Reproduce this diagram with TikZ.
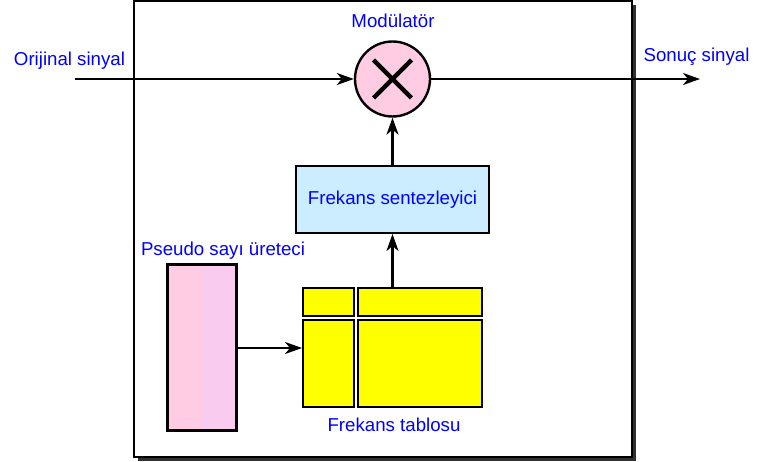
\documentclass[tikz,border=0pt]{standalone}
\usepackage{fontspec}
\setmainfont{Liberation Sans}
\usetikzlibrary{arrows.meta}

\definecolor{pembe}{HTML}{FFCCE3}
\definecolor{mor}{HTML}{F9CCEF}
\definecolor{acikmavi}{HTML}{CCECFF}
\definecolor{sari}{HTML}{FFFF00}
\definecolor{golge}{HTML}{303030}

\tikzset{
  etiket/.style={text=blue, font=\fontsize{18.67}{20}\selectfont, inner sep=0pt, anchor=base},
  kutu/.style={draw=black, line width=2pt, inner sep=0pt, rectangle},
  hucre/.style={draw=black, line width=2pt, fill=sari, inner sep=0pt, rectangle},
  ok/.style={line width=2.2pt, -{Stealth[length=17pt,width=12pt,inset=5pt]}}
}

\begin{document}
\begin{tikzpicture}[x=1pt, y=-1pt]
\useasboundingbox (0,0) rectangle (764,462);

% dis cerceve (golgeli)
\fill[golge] (138,5) rectangle (636,461);
\draw[fill=white, line width=2pt] (134,1) rectangle (632,457);

% modulator
\node[kutu, circle, fill=pembe, minimum size=75pt, line width=2.4pt] (mod) at (392.5,79) {};
\draw[line width=4.5pt] ([shift={(-19,-19)}]mod.center) -- ([shift={(19,19)}]mod.center);
\draw[line width=4.5pt] ([shift={(-19,19)}]mod.center) -- ([shift={(19,-19)}]mod.center);

% frekans sentezleyici
\node[kutu, fill=acikmavi, minimum width=193pt, minimum height=67pt,
      text=blue, font=\fontsize{18.67}{20}\selectfont] (sentez) at (392.5,199.5) {Frekans sentezleyici};

% pseudo sayi ureteci
\node[kutu, fill=pembe, minimum width=68pt, minimum height=165pt] (pseudo) at (202,347.5) {};
\fill[mor] (201,266) rectangle (235,429);
\draw[line width=2pt] (pseudo.north west) rectangle (pseudo.south east);

% frekans tablosu
\node[hucre, minimum width=51pt, minimum height=28pt] (t11) at (328.5,302.5) {};
\node[hucre, minimum width=124pt, minimum height=28pt] (t12) at (420,302.5) {};
\node[hucre, minimum width=51pt, minimum height=87pt] (t21) at (328.5,363.5) {};
\node[hucre, minimum width=124pt, minimum height=87pt] (t22) at (420,363.5) {};

% giris ve cikis
\coordinate (giris) at (75,79);
\coordinate (cikis) at (700,79);

% baglantilar
\draw[ok] (giris) -- (mod.west);
\draw[ok] (mod.east) -- (cikis);
\draw[ok] (sentez.north) -- (mod.south);
\draw[ok] (sentez.south |- t12.north) -- (sentez.south);
\draw[ok] (pseudo.east |- 0,348) -- (t21.west |- 0,348);

% yazilar
\node[etiket] (modyazi) at (393,28) {Modülatör};
\node[etiket] (girisyazi) at (69.5,66) {Orijinal sinyal};
\node[etiket] (cikisyazi) at (696.5,62) {Sonuç sinyal};
\node[etiket] (pseudoyazi) at (223,256) {Pseudo sayı üreteci};
\node[etiket] (tabloyazi) at (394,432) {Frekans tablosu};
\end{tikzpicture}
\end{document}
